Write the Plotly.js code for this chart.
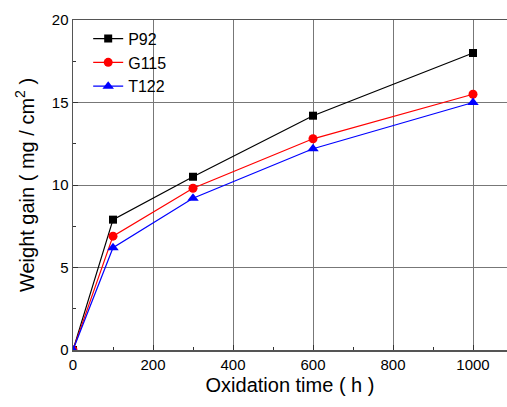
<!DOCTYPE html>
<html>
<head>
<meta charset="utf-8">
<script src="https://cdn.plot.ly/plotly-3.0.1.min.js"></script>
<style>html,body{margin:0;padding:0;background:#fff}#chart{width:507px;height:407px}</style>
</head>
<body>
<div id="chart"></div>
<script>
const time = [0, 100, 300, 600, 1000];
const p92 = [0, 7.9, 10.5, 14.2, 18.0];
const g115 = [0, 6.9, 9.8, 12.8, 15.5];
const t122 = [0, 6.2, 9.2, 12.2, 15.0];
const xTicks = [0, 200, 400, 600, 800, 1000];
const yTicks = [0, 5, 10, 15, 20];

const traces = [
  {x: time, y: p92, name: 'P92', mode: 'lines+markers', line: {color: '#000000', width: 1.2}, marker: {symbol: 'square', size: 8, color: '#000000'}},
  {x: time, y: g115, name: 'G115', mode: 'lines+markers', line: {color: '#ff0000', width: 1.2}, marker: {symbol: 'circle', size: 9, color: '#ff0000'}},
  {x: time, y: t122, name: 'T122', mode: 'lines+markers', line: {color: '#0000ff', width: 1.2}, marker: {symbol: 'triangle-up', size: 10, color: '#0000ff'}}
];

const layout = {
  width: 507, height: 407,
  margin: {l: 73, r: 0, t: 20, b: 57},
  paper_bgcolor: '#ffffff', plot_bgcolor: '#ffffff',
  font: {family: 'Liberation Sans, Arial, sans-serif', color: '#000'},
  showlegend: true,
  legend: {x: 0.035, y: 0.995, xanchor: 'left', yanchor: 'top', bgcolor: 'rgba(0,0,0,0)', font: {size: 16}, tracegroupgap: 0},
  xaxis: {
    range: [0, 1085], tickvals: xTicks, ticks: 'inside', ticklen: 5, tickcolor: '#333',
    showgrid: true, gridcolor: '#777', gridwidth: 1, zeroline: false,
    showline: true, linecolor: '#555', linewidth: 1.5, mirror: true,
    tickfont: {size: 15},
    minor: {dtick: 100, tick0: 0, ticks: 'inside', ticklen: 3, tickcolor: '#333', showgrid: false},
    title: {text: 'Oxidation time ( h )', font: {size: 20}, standoff: 6}
  },
  yaxis: {
    range: [0, 20], tickvals: yTicks, ticks: 'inside', ticklen: 5, tickcolor: '#333',
    showgrid: true, gridcolor: '#777', gridwidth: 1, zeroline: false,
    showline: true, linecolor: '#555', linewidth: 1.5, mirror: false,
    tickfont: {size: 15},
    minor: {dtick: 2.5, tick0: 0, ticks: 'inside', ticklen: 3, tickcolor: '#333', showgrid: false},
    title: {text: 'Weight gain ( mg / cm<sup>2</sup> )', font: {size: 20}, standoff: 12}
  }
};

Plotly.newPlot('chart', traces, layout, {displayModeBar: false, staticPlot: true});
</script>
</body>
</html>
